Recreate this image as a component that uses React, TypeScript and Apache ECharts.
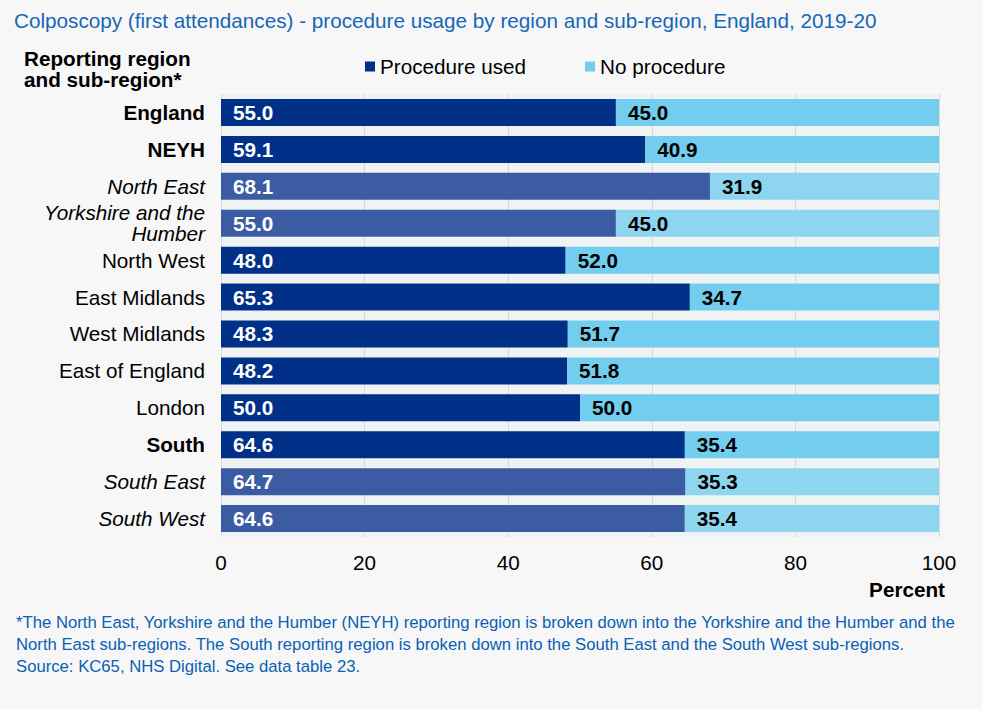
import React, { useEffect, useRef } from "react";
import * as echarts from "echarts";

const categories = [
  "England",
  "NEYH",
  "North East",
  "Yorkshire and the\nHumber",
  "North West",
  "East Midlands",
  "West Midlands",
  "East of England",
  "London",
  "South",
  "South East",
  "South West",
];
// b = reporting region (bold), i = sub-region (italic), n = normal
const labelStyle = ["b", "b", "i", "i", "n", "n", "n", "n", "n", "b", "i", "i"];
const procedureUsed = [55.0, 59.1, 68.1, 55.0, 48.0, 65.3, 48.3, 48.2, 50.0, 64.6, 64.7, 64.6];
const noProcedure = [45.0, 40.9, 31.9, 45.0, 52.0, 34.7, 51.7, 51.8, 50.0, 35.4, 35.3, 35.4];
const xTicks = [0, 20, 40, 60, 80, 100];

const FONT = '"Liberation Sans", Arial, sans-serif';
const FS = 20.7;
const DARK = "#003087";
const LIGHT = "#72cdef";
const DARK_SUB = "#3b5ca3";
const LIGHT_SUB = "#8ed6f0";

export default function App() {
  const ref = useRef<HTMLDivElement>(null);
  useEffect(() => {
    if (!ref.current) return;
    const chart = echarts.init(ref.current, null, { renderer: "svg" });
    const isSub = (i: number) => labelStyle[i] === "i";
    chart.setOption({
      animation: false,
      backgroundColor: "#f7f7f7",
      textStyle: { fontFamily: FONT },
      title: {
        text: "Colposcopy (first attendances) - procedure usage by region and sub-region, England, 2019-20",
        left: 9,
        top: 5,
        textStyle: { color: "#1666b8", fontSize: FS, fontWeight: "normal", fontFamily: FONT },
      },
      legend: {
        top: 51,
        left: 360,
        itemWidth: 10,
        itemHeight: 10,
        itemGap: 59,
        icon: "rect",
        textStyle: { fontSize: FS, color: "#000", fontFamily: FONT },
        data: ["Procedure used", "No procedure"],
      },
      grid: {
        left: 221,
        right: 43,
        top: 94,
        bottom: 172,
        show: true,
        backgroundColor: "#f0f3f4",
        borderWidth: 0,
      },
      xAxis: {
        type: "value",
        min: xTicks[0],
        max: xTicks[xTicks.length - 1],
        interval: 20,
        axisLine: { show: false },
        axisTick: { show: false },
        splitLine: { show: true, lineStyle: { color: "#d9d9d9", width: 1 } },
        axisLabel: { fontSize: FS, color: "#000", margin: 15, fontFamily: FONT },
      },
      yAxis: {
        type: "category",
        inverse: true,
        data: categories,
        axisLine: { show: false },
        axisTick: { show: false },
        axisLabel: {
          margin: 16,
          formatter: (v: string) => {
            const i = categories.indexOf(v);
            return v
              .split("\n")
              .map((line) => `{${labelStyle[i]}|${line}}`)
              .join("\n");
          },
          rich: {
            b: { fontSize: FS, fontWeight: "bold", color: "#000", fontFamily: FONT, lineHeight: 21, align: "right" },
            i: { fontSize: FS, fontStyle: "italic", color: "#000", fontFamily: FONT, lineHeight: 21, align: "right" },
            n: { fontSize: FS, color: "#000", fontFamily: FONT, lineHeight: 21, align: "right" },
          },
        },
      },
      series: [
        {
          name: "Procedure used",
          type: "bar",
          stack: "total",
          barWidth: 27,
          itemStyle: { color: DARK },
          data: procedureUsed.map((v, i) => ({
            value: v,
            itemStyle: { color: isSub(i) ? DARK_SUB : DARK },
          })),
          label: {
            show: true,
            position: "insideLeft",
            distance: 12,
            color: "#fff",
            fontWeight: "bold",
            fontSize: FS,
            fontFamily: FONT,
            formatter: (p: any) => Number(p.value).toFixed(1),
          },
        },
        {
          name: "No procedure",
          type: "bar",
          stack: "total",
          barWidth: 27,
          itemStyle: { color: LIGHT },
          data: noProcedure.map((v, i) => ({
            value: v,
            itemStyle: { color: isSub(i) ? LIGHT_SUB : LIGHT },
          })),
          label: {
            show: true,
            position: "insideLeft",
            distance: 12,
            color: "#000",
            fontWeight: "bold",
            fontSize: FS,
            fontFamily: FONT,
            formatter: (p: any) => Number(p.value).toFixed(1),
          },
        },
      ],
      graphic: [
        {
          type: "text",
          left: 24,
          top: 48,
          style: {
            text: "Reporting region\nand sub-region*",
            font: `bold ${FS}px ${FONT}`,
            fill: "#000",
            lineHeight: 21,
          },
        },
        {
          type: "text",
          right: 37,
          top: 579,
          style: {
            text: "Percent",
            font: `bold ${FS}px ${FONT}`,
            fill: "#000",
          },
        },
        {
          type: "text",
          left: 16,
          top: 611,
          style: {
            text:
              "*The North East, Yorkshire and the Humber (NEYH) reporting region is broken down into the Yorkshire and the Humber and the\nNorth East sub-regions. The South reporting region is broken down into the South East and the South West sub-regions.\nSource: KC65, NHS Digital. See data table 23.",
            font: `16.7px ${FONT}`,
            fill: "#0b5fb5",
            lineHeight: 22,
          },
        },
      ],
    });
    return () => chart.dispose();
  }, []);
  return (
    <div
      ref={ref}
      style={{ position: "fixed", left: 0, top: 0, width: 982, height: 709 }}
    />
  );
}
